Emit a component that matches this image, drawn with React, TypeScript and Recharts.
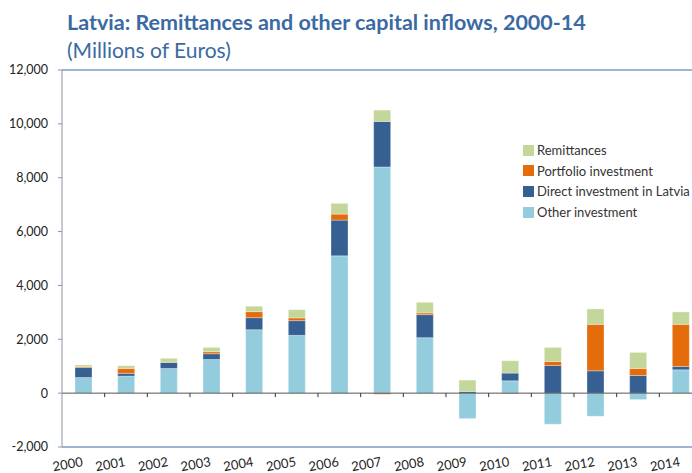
import React from "react";
import { BarChart, Bar, XAxis, YAxis, ReferenceLine } from "recharts";

const years = ["2000", "2001", "2002", "2003", "2004", "2005", "2006", "2007", "2008", "2009", "2010", "2011", "2012", "2013", "2014"];
const otherInvestment = [580, 633, 916, 1251, 2357, 2145, 5100, 8399, 2059, -945, 458, -1155, -857, -238, 867];
const directInvestment = [370, 100, 224, 212, 446, 547, 1326, 1690, 856, 60, 287, 1028, 830, 655, 123];
const portfolioInvestment = [40, 186, 15, 75, 224, 100, 223, -40, 63, 0, -20, 148, 1724, 261, 1564];
const remittances = [60, 100, 137, 160, 197, 309, 399, 421, 395, 424, 458, 522, 573, 595, 462];
const yTicks = [-2000, 0, 2000, 4000, 6000, 8000, 10000, 12000];

const data = years.map((year, i) => ({
  year,
  other: otherInvestment[i],
  direct: directInvestment[i],
  portfolio: portfolioInvestment[i],
  remit: remittances[i],
}));

const FONT = "Lato, 'Open Sans', sans-serif";
const BLUE = "#3a6aa3";

const fmt = (v: number) => v.toLocaleString("en-US");

const legendItems = [
  { label: "Remittances", color: "#c4d79b" },
  { label: "Portfolio investment", color: "#e46c0a" },
  { label: "Direct investment in Latvia", color: "#366092" },
  { label: "Other investment", color: "#93cddd" },
];

function LegendBox() {
  return (
    <div style={{ position: "absolute", left: 523, top: 140, fontFamily: FONT, fontSize: 13, color: "#333" }}>
      {legendItems.map((it) => (
        <div key={it.label} style={{ display: "flex", alignItems: "center", height: 20.6, whiteSpace: "nowrap" }}>
          <span style={{ width: 11, height: 11, background: it.color, marginRight: 3, display: "inline-block" }} />
          {it.label}
        </div>
      ))}
    </div>
  );
}

function ZeroAxis(props: any) {
  const { x1, x2, y1 } = props;
  const n = years.length;
  const step = (x2 - x1) / n;
  const ticks = [];
  for (let i = 1; i < n; i++) {
    const x = x1 + step * i;
    ticks.push(<line key={i} x1={x} x2={x} y1={y1} y2={y1 + 4} stroke="#333" strokeWidth={1} />);
  }
  return (
    <g>
      <line x1={x1} x2={x2} y1={y1} y2={y1} stroke="#555" strokeWidth={1} />
      {ticks}
    </g>
  );
}

function YearTick(props: any) {
  const { x, y, payload } = props;
  const ty = y + 19;
  return (
    <text x={x} y={ty} textAnchor="end" fontFamily={FONT} fontSize={13} fill="#222" transform={`rotate(-10, ${x}, ${ty})`}>
      {payload.value}
    </text>
  );
}

export default function App() {
  return (
    <div style={{ position: "fixed", left: 0, top: 0, width: 692, height: 473, overflow: "hidden", background: "#fff" }}>
      <div style={{ position: "absolute", left: 0, top: 0 }}>
        <BarChart width={702} height={473} data={data} stackOffset="sign" margin={{ top: 70, right: 0, bottom: 0, left: 0 }}>
          <XAxis
            dataKey="year"
            height={26}
            axisLine={{ stroke: BLUE, strokeWidth: 1.2 }}
            tickLine={false}
            tickSize={0}
            tickMargin={0}
            interval={0}
            tick={<YearTick />}
          />
          <YAxis
            width={62}
            domain={[-2000, 12000]}
            ticks={yTicks}
            tickFormatter={fmt}
            axisLine={{ stroke: "#8c95a0" }}
            tickLine={{ stroke: "#8c95a0" }}
            tickSize={4}
            tickMargin={10}
            tick={{ fontFamily: FONT, fontSize: 12.5, fill: "#222" }}
          />
          <Bar dataKey="other" stackId="a" fill="#93cddd" barSize={17} stroke="#ffffff" strokeOpacity={0.5} strokeWidth={0.6} isAnimationActive={false} />
          <Bar dataKey="direct" stackId="a" fill="#366092" barSize={17} stroke="#ffffff" strokeOpacity={0.5} strokeWidth={0.6} isAnimationActive={false} />
          <Bar dataKey="portfolio" stackId="a" fill="#e46c0a" barSize={17} stroke="#ffffff" strokeOpacity={0.5} strokeWidth={0.6} isAnimationActive={false} />
          <Bar dataKey="remit" stackId="a" fill="#c4d79b" barSize={17} stroke="#ffffff" strokeOpacity={0.5} strokeWidth={0.6} isAnimationActive={false} />
          <ReferenceLine y={12000} stroke={BLUE} strokeWidth={1.2} />
          <ReferenceLine y={0} shape={(p: any) => <ZeroAxis {...p} />} />
        </BarChart>
      </div>
      <div style={{ position: "absolute", left: 67, top: 9, fontFamily: FONT, fontWeight: 700, fontSize: 21.5, color: BLUE, whiteSpace: "nowrap" }}>
        Latvia: Remittances and other capital inflows, 2000-14
      </div>
      <div style={{ position: "absolute", left: 67, top: 37, fontFamily: FONT, fontSize: 21, color: BLUE, whiteSpace: "nowrap" }}>
        (Millions of Euros)
      </div>
      <LegendBox />
    </div>
  );
}
